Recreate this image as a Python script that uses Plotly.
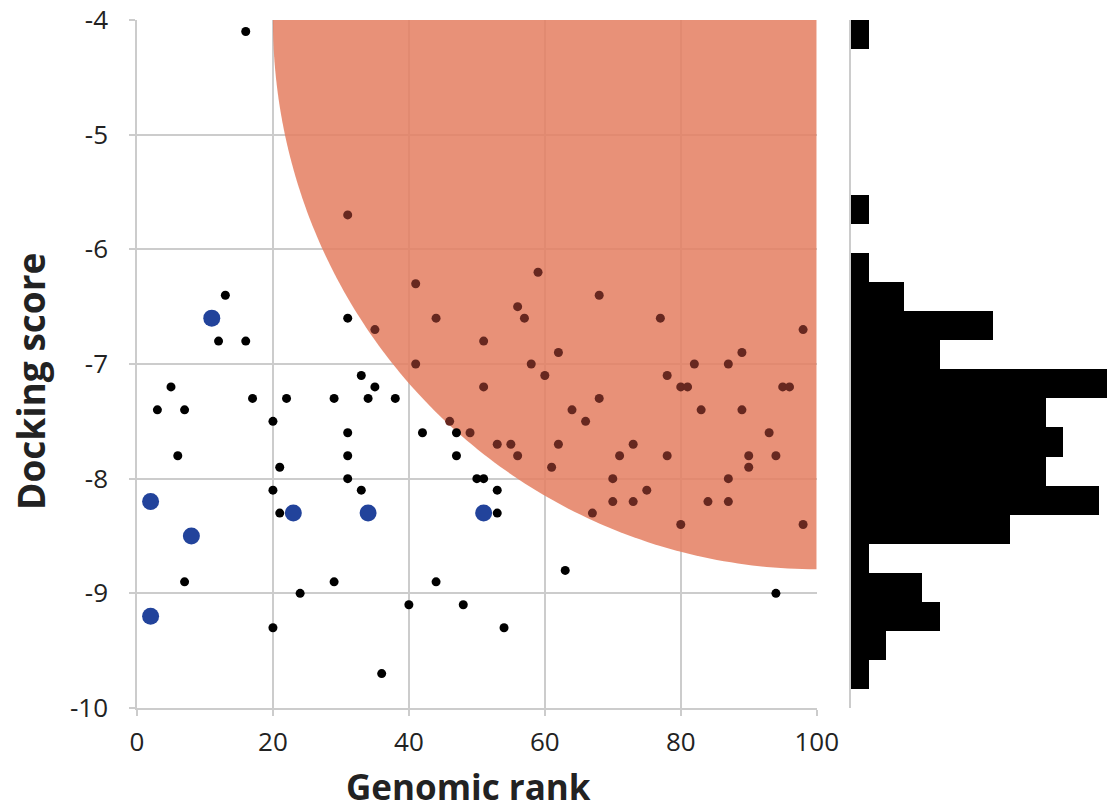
import numpy as np
import plotly.graph_objects as go

# ---- data ----
black_x = [16, 13, 12, 16, 31, 5, 3, 7, 17, 22, 20, 29, 33, 35, 34, 31, 38, 42, 47, 6,
           21, 31, 31, 33, 20, 21, 7, 29, 24, 20, 36, 47, 50, 51, 53, 53, 63, 44, 40, 48,
           54, 94]
black_y = [-4.1, -6.4, -6.8, -6.8, -6.6, -7.2, -7.4, -7.4, -7.3, -7.3, -7.5, -7.3, -7.1, -7.2,
           -7.3, -7.6, -7.3, -7.6, -7.6, -7.8, -7.9, -7.8, -8.0, -8.1, -8.1, -8.3, -8.9, -8.9,
           -9.0, -9.3, -9.7, -7.8, -8.0, -8.0, -8.1, -8.3, -8.8, -8.9, -9.1, -9.1, -9.3, -9.0]

inside_x = [31, 35, 41, 44, 51, 59, 68, 56, 57, 62, 41, 58, 60, 51, 68, 64, 66, 46, 49, 53,
            55, 62, 77, 98, 89, 82, 87, 78, 80, 81, 95, 96, 83, 89, 93, 73, 71, 78, 90, 94,
            90, 70, 87, 75, 70, 73, 84, 87, 80, 98, 56, 61, 67]
inside_y = [-5.7, -6.7, -6.3, -6.6, -6.8, -6.2, -6.4, -6.5, -6.6, -6.9, -7.0, -7.0, -7.1, -7.2,
            -7.3, -7.4, -7.5, -7.5, -7.6, -7.7, -7.7, -7.7, -6.6, -6.7, -6.9, -7.0, -7.0, -7.1,
            -7.2, -7.2, -7.2, -7.2, -7.4, -7.4, -7.6, -7.7, -7.8, -7.8, -7.8, -7.8, -7.9, -8.0,
            -8.0, -8.1, -8.2, -8.2, -8.2, -8.2, -8.4, -8.4, -7.8, -7.9, -8.3]

blue_x = [11, 2, 8, 2, 23, 34, 51]
blue_y = [-6.6, -8.2, -8.5, -9.2, -8.3, -8.3, -8.3]

# histogram of docking scores (bin centres, counts)
hist_centers = [-4.125, -4.375, -4.625, -4.875, -5.125, -5.375, -5.625, -5.875, -6.125, -6.375,
                -6.625, -6.875, -7.125, -7.375, -7.625, -7.875, -8.125, -8.375, -8.625, -8.875,
                -9.125, -9.375, -9.625]
hist_counts = [1, 0, 0, 0, 0, 0, 1, 0, 1, 3, 8, 5, 15, 11, 12, 11, 14, 9, 1, 4, 5, 2, 1]

x_ticks = [0, 20, 40, 60, 80, 100]
x_ticktext = ["0", "20", "40", "60", "80", "100"]
y_ticks = [-4, -5, -6, -7, -8, -9, -10]
y_ticktext = ["-4", "-5", "-6", "-7", "-8", "-9", "-10"]

# favourable region: quarter ellipse anchored at top-right corner
ell_cx, ell_cy = 100, -4
ell_rx, ell_ry = 80, 4.79

GRID = "#cccccc"
FONT = "Open Sans"
TXT = "#222222"

fig = go.Figure()

fig.add_trace(go.Scatter(x=black_x, y=black_y, mode="markers",
                         marker=dict(size=9, color="black"), showlegend=False))
fig.add_trace(go.Scatter(x=inside_x, y=inside_y, mode="markers",
                         marker=dict(size=9, color="#672820"), showlegend=False))
fig.add_trace(go.Scatter(x=blue_x, y=blue_y, mode="markers",
                         marker=dict(size=17, color="#22439b"), showlegend=False))

fig.add_trace(go.Bar(x=hist_counts, y=hist_centers, orientation="h", width=0.25,
                     marker=dict(color="black", line=dict(width=0)),
                     xaxis="x2", yaxis="y2", showlegend=False))

# ellipse path
t = np.linspace(np.pi, 1.5 * np.pi, 120)
ex = ell_cx + ell_rx * np.cos(t)
ey = ell_cy + ell_ry * np.sin(t)
path = "M " + " L ".join(f"{a:.4f},{b:.4f}" for a, b in zip(ex, ey)) + f" L {ell_cx},{ell_cy} Z"
fig.add_shape(type="path", path=path, xref="x", yref="y",
              fillcolor="rgba(228,127,98,0.86)", line=dict(width=0), layer="between")

W, H = 1107, 812
L, T, B = 137, 20, 104
pw = W - L
ph = H - T - B


def px_x(p):
    return (p - L) / pw


def px_y(p):
    return (H - B - p) / ph


axis_common = dict(showgrid=True, gridcolor=GRID, gridwidth=1.5, zeroline=False,
                   showline=True, linecolor=GRID, linewidth=1.5,
                   ticks="outside", ticklen=6, tickcolor=GRID, tickwidth=1.5,
                   tickfont=dict(size=26, family=FONT, color=TXT), automargin=False)

fig.update_layout(
    width=W, height=H, autosize=False,
    margin=dict(l=L, r=0, t=T, b=B, pad=0),
    paper_bgcolor="white", plot_bgcolor="white",
    font=dict(family=FONT, color=TXT),
    bargap=0,
    xaxis=dict(domain=[0, px_x(816.7)], range=[0, 100], tickvals=x_ticks, ticktext=x_ticktext,
               ticklabelstandoff=4, **axis_common),
    yaxis=dict(domain=[0, 1], range=[-10, -4], tickvals=y_ticks, ticktext=y_ticktext,
               ticklabelstandoff=16, **axis_common),
    xaxis2=dict(domain=[px_x(850.7), 1], range=[0, (W - 850.7) / 17.7], anchor="y2",
                showgrid=False, zeroline=False, showticklabels=False, showline=False,
                ticks="", automargin=False),
    yaxis2=dict(domain=[0, 1], range=[-4 - ph / 116.4, -4], anchor="x2",
                showgrid=False, zeroline=False, showticklabels=False,
                showline=True, linecolor=GRID, linewidth=1.5, ticks="", automargin=False),
    annotations=[
        dict(text="<b>Genomic rank</b>", x=px_x(468), y=px_y(811), xref="paper", yref="paper",
             xanchor="center", yanchor="bottom", showarrow=False, borderpad=0,
             font=dict(size=35, family=FONT, color=TXT)),
        dict(text="<b>Docking score</b>", x=px_x(30), y=px_y(382), xref="paper", yref="paper",
             xanchor="center", yanchor="middle", textangle=-90, showarrow=False,
             font=dict(size=37, family=FONT, color=TXT)),
    ],
)

fig.write_html(
    "out.html",
    config={"displayModeBar": False},
    post_script="document.body.style.margin='0';document.body.style.overflow='hidden';",
)
